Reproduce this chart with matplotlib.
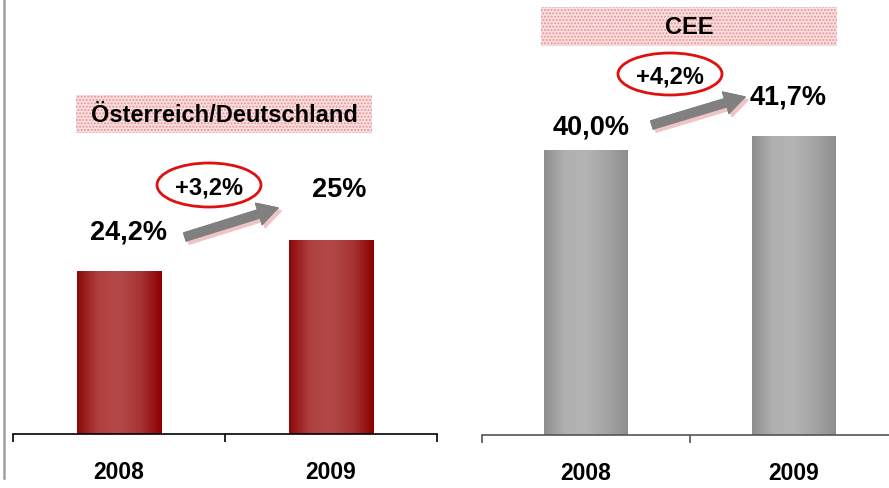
import numpy as np
import matplotlib.pyplot as plt
from matplotlib.colors import LinearSegmentedColormap
from matplotlib.patches import Ellipse, Rectangle

# data
years = ["2008", "2009"]
at_de_values = [24.2, 25.0]
cee_values = [40.0, 41.7]
at_de_labels = ["24,2%", "25%"]
cee_labels = ["40,0%", "41,7%"]
at_de_growth = "+3,2%"
cee_growth = "+4,2%"

plt.rcParams['font.family'] = ['Liberation Sans', 'DejaVu Sans']

fig = plt.figure(figsize=(8.89, 4.88), dpi=100)
W, H = 889, 488
inch = fig.dpi_scale_trans


def px(x, y):
    # top-left pixel coords -> inches for dpi_scale_trans
    return x / 100, (H - y) / 100


red_cmap = LinearSegmentedColormap.from_list(
    "red", ["#8c0808", "#b04040", "#b44848", "#a83434", "#8b0000"])
grey_cmap = LinearSegmentedColormap.from_list(
    "grey", ["#8e8e8e", "#b0b0b0", "#b4b4b4", "#a4a4a4", "#8e8e8e"])


def gradient_bars(ax, values, cmap, bottom):
    bars = ax.bar(range(len(values)), [v - bottom for v in values], bottom=bottom,
                  width=0.40, color="none", edgecolor="none")
    grad = np.linspace(0, 1, 256).reshape(1, -1)
    for b in bars:
        x0, y0 = b.get_x(), b.get_y()
        im = ax.imshow(grad, cmap=cmap, aspect="auto", zorder=2,
                       extent=[x0, x0 + b.get_width(), y0, y0 + b.get_height()])
        im.set_clip_path(b)
    return bars


def setup_axis(ax, spine_color):
    ax.set_xlim(-0.5, 1.5)
    for s in ["top", "right", "left"]:
        ax.spines[s].set_visible(False)
    ax.spines["bottom"].set_color(spine_color)
    ax.spines["bottom"].set_linewidth(1.2)
    ax.set_yticks([])
    ax.set_xticks([-0.5, 0.5, 1.5])
    ax.set_xticklabels([])
    ax.tick_params(axis="x", direction="out", length=6, width=1.2, color=spine_color)
    for i, yr in enumerate(years):
        ax.annotate(yr, xy=(i, 0), xycoords=("data", "axes fraction"),
                    xytext=(0, -28), textcoords="offset points",
                    ha="center", va="center", fontsize=16.5, fontweight="bold")


# left panel: Österreich/Deutschland
ax1 = fig.add_axes([13 / W, 54 / H, 424 / W, 434 / H])
ax1.set_ylim(20.0, 20.0 + 434 / 38.75)
gradient_bars(ax1, at_de_values, red_cmap, 20.0)
setup_axis(ax1, "black")

# right panel: CEE
ax2 = fig.add_axes([482 / W, 53 / H, 416 / W, 435 / H])
ax2.set_ylim(5.4, 5.4 + 435 / 8.235)
gradient_bars(ax2, cee_values, grey_cmap, 5.4)
setup_axis(ax2, "#555555")

# value labels
left_offsets = [(7, 28), (6, 36)]
right_offsets = [(4, 16), (-4, 28)]
for ax, vals, labels, offs in [(ax1, at_de_values, at_de_labels, left_offsets),
                               (ax2, cee_values, cee_labels, right_offsets)]:
    for i, (v, lab) in enumerate(zip(vals, labels)):
        ax.annotate(lab, xy=(i, v), xytext=offs[i], textcoords="offset points",
                    ha="center", va="center", fontsize=19.5, fontweight="bold")

# title boxes
for (x0, y0, x1, y1), title in [((76, 95, 372, 133), "Österreich/Deutschland"),
                                ((541, 7, 837, 46), "CEE")]:
    box = Rectangle(px(x0, y1), (x1 - x0) / 100, (y1 - y0) / 100, transform=inch,
                    facecolor="#fae0e0", edgecolor="#e69494", hatch=".....", lw=0)
    fig.add_artist(box)
    fig.text(*px((x0 + x1) / 2, (y0 + y1) / 2 + 1), title, transform=inch,
             ha="center", va="center", fontsize=17, fontweight="bold")

# growth arrows with pink shadow
for (tx, ty), (hx, hy) in [((185, 237), (278, 208)), ((652, 125), (745, 97))]:
    for dx, dy, col in [(3, 3, "#efc4c4"), (0, 0, "#808080")]:
        fig.add_artist(plt.annotate(
            "", xy=px(hx + dx, hy + dy), xycoords=inch,
            xytext=px(tx + dx, ty + dy), textcoords=inch,
            arrowprops=dict(arrowstyle="simple,head_length=0.9,head_width=1.0,tail_width=0.38",
                            color=col, mutation_scale=16, shrinkA=0, shrinkB=0)))

# growth ellipses
for (cx, cy, w, h), txt, ty in [((209, 185, 104, 44), at_de_growth, 188),
                                ((670, 74, 104, 42), cee_growth, 77)]:
    fig.add_artist(Ellipse(px(cx, cy), w / 100, h / 100, transform=inch,
                           facecolor="none", edgecolor="#e01010", lw=2))
    fig.text(*px(cx, ty), txt, transform=inch, ha="center", va="center",
             fontsize=17, fontweight="bold")

# thin vertical separator on the left edge
fig.add_artist(plt.Line2D([4 / W, 4 / W], [10 / H, 1.0], transform=fig.transFigure,
                          color="#a0a0a0", lw=1.8))

fig.savefig("out.png", dpi=100)
